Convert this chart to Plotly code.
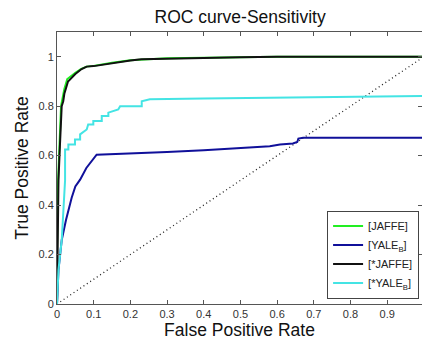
import plotly.graph_objects as go

# ---- data ----
jaffe_x = [0, 0.0, 0.003, 0.007, 0.011, 0.02, 0.028, 0.05, 0.065, 0.08, 0.1, 0.15, 0.2, 0.3, 0.4, 0.5, 0.6, 1.0]
jaffe_y = [0, 0.2, 0.5, 0.65, 0.8, 0.87, 0.91, 0.935, 0.95, 0.96, 0.963, 0.976, 0.986, 0.994, 0.996, 0.999, 1.0, 1.0]

yale_x = [0, 0.004, 0.013, 0.0245, 0.04, 0.05, 0.063, 0.08, 0.108, 0.2, 0.3, 0.4, 0.5, 0.58, 0.608, 0.643, 0.655, 0.658, 0.671, 1.0]
yale_y = [0, 0.138, 0.26, 0.34, 0.43, 0.475, 0.503, 0.55, 0.604, 0.608, 0.615, 0.622, 0.63, 0.638, 0.645, 0.649, 0.655, 0.669, 0.672, 0.672]

sjaffe_x = [0, 0.001, 0.004, 0.008, 0.0128, 0.017, 0.02, 0.03, 0.04, 0.05, 0.067, 0.081, 0.1, 0.15, 0.2, 0.23, 0.3, 0.4, 0.5, 0.6, 1.0]
sjaffe_y = [0, 0.14, 0.5, 0.64, 0.8, 0.82, 0.85, 0.9, 0.915, 0.93, 0.95, 0.96, 0.962, 0.975, 0.985, 0.99, 0.993, 0.995, 0.998, 1.0, 1.0]

syale_x = [0, 0.004, 0.013, 0.022, 0.022, 0.031, 0.031, 0.049, 0.049, 0.063, 0.063, 0.081, 0.085, 0.099, 0.099, 0.122, 0.122, 0.14, 0.14, 0.167, 0.172, 0.231, 0.231, 0.253, 0.4, 0.6, 0.8, 1.0]
syale_y = [0, 0.138, 0.26, 0.5, 0.625, 0.625, 0.645, 0.645, 0.665, 0.665, 0.686, 0.706, 0.726, 0.726, 0.74, 0.74, 0.76, 0.76, 0.774, 0.787, 0.80, 0.80, 0.82, 0.828, 0.831, 0.835, 0.839, 0.841]

diag = [0, 1]

x_ticks = [0, 0.1, 0.2, 0.3, 0.4, 0.5, 0.6, 0.7, 0.8, 0.9]
x_tick_labels = ["0", "0.1", "0.2", "0.3", "0.4", "0.5", "0.6", "0.7", "0.8", "0.9"]
y_ticks = [0, 0.2, 0.4, 0.6, 0.8, 1.0]
y_tick_labels = ["0", "0.2", "0.4", "0.6", "0.8", "1"]

FONT = "Liberation Sans, Arial, sans-serif"

fig = go.Figure()
fig.add_trace(go.Scatter(x=diag, y=diag, mode="lines", showlegend=False,
                         line=dict(color="#222222", width=1.3, dash="1px,3px")))
fig.add_trace(go.Scatter(x=jaffe_x, y=jaffe_y, mode="lines", name="[JAFFE]",
                         line=dict(color="#22ee22", width=2)))
fig.add_trace(go.Scatter(x=yale_x, y=yale_y, mode="lines", name="[YALE<sub>B</sub>]",
                         line=dict(color="#10109a", width=2)))
fig.add_trace(go.Scatter(x=sjaffe_x, y=sjaffe_y, mode="lines", name="[*JAFFE]",
                         line=dict(color="#111111", width=2)))
fig.add_trace(go.Scatter(x=syale_x, y=syale_y, mode="lines", name="[*YALE<sub>B</sub>]",
                         line=dict(color="#44e4e4", width=2)))

axis_common = dict(showgrid=False, zeroline=False, showline=True, linecolor="#555555",
                   linewidth=1, mirror="ticks", ticks="inside", ticklen=4, automargin=False,
                   tickcolor="#555555", tickfont=dict(family=FONT, size=11, color="#333333"))

fig.update_layout(
    width=422, height=343,
    margin=dict(l=57, r=0, t=32, b=39),
    paper_bgcolor="white", plot_bgcolor="white",
    font=dict(family=FONT, color="#111111"),
    title=dict(text="ROC curve-Sensitivity", x=0.569, xanchor="center", y=0.952, yanchor="middle",
               font=dict(family=FONT, size=17.5, color="#111111")),
    xaxis=dict(range=[0, 0.995], tickvals=x_ticks, ticktext=x_tick_labels,
               title=dict(text="False Positive Rate", standoff=3,
                          font=dict(family=FONT, size=17.5, color="#111111")),
               **axis_common),
    yaxis=dict(range=[0, 1.1], tickvals=y_ticks, ticktext=y_tick_labels,
               title=dict(text="True Positive Rate", standoff=5,
                          font=dict(family=FONT, size=17.5, color="#111111")),
               **axis_common),
    legend=dict(x=0.992, xanchor="right", y=0.02, yanchor="bottom",
                bgcolor="white", bordercolor="#444444", borderwidth=1,
                font=dict(family=FONT, size=11, color="#222222"),
                itemwidth=30, tracegroupgap=0),
    showlegend=True,
)

fig.write_html("out.html", config={"displayModeBar": False},
               post_script="document.body.style.margin='0';document.body.style.overflow='hidden';")
